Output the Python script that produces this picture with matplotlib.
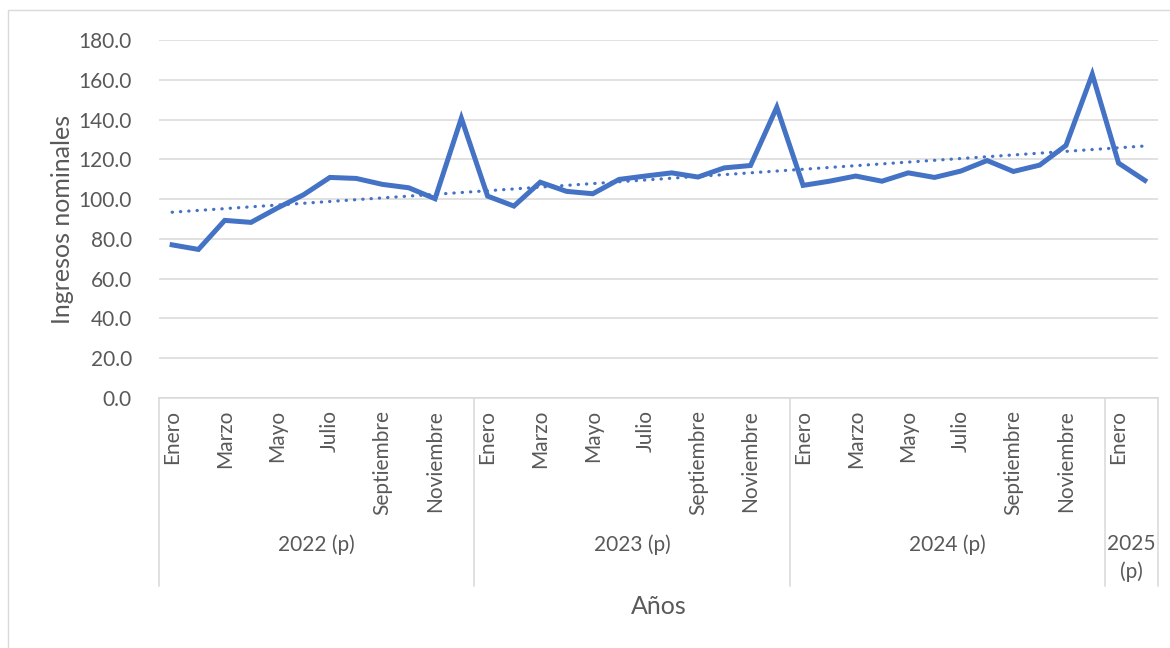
import numpy as np
import matplotlib
matplotlib.use("Agg")
import matplotlib.pyplot as plt
from matplotlib.patches import Rectangle
import matplotlib.transforms as mtransforms

plt.rcParams["font.family"] = ["Lato", "DejaVu Sans"]

# monthly nominal income, Jan 2022 .. Feb 2025
ingresos_2022 = [77.0, 74.7, 89.3, 88.3, 95.5, 102.2, 110.9, 110.4, 107.4, 105.7, 100.2, 140.7]
ingresos_2023 = [101.5, 96.5, 108.5, 103.9, 102.7, 109.9, 111.6, 113.2, 111.1, 115.7, 116.9, 146.2]
ingresos_2024 = [106.9, 109.0, 111.6, 109.0, 113.2, 110.9, 114.1, 119.4, 113.9, 117.1, 127.0, 162.8]
ingresos_2025 = [118.1, 109.4]

meses = ["Enero", "Febrero", "Marzo", "Abril", "Mayo", "Junio", "Julio",
         "Agosto", "Septiembre", "Octubre", "Noviembre", "Diciembre"]
anios = ["2022 (p)", "2023 (p)", "2024 (p)", "2025\n(p)"]
n_meses = [12, 12, 12, 2]

valores = np.array(ingresos_2022 + ingresos_2023 + ingresos_2024 + ingresos_2025)
x = np.arange(len(valores))

BLUE = "#4472C4"
GRID = "#d9d9d9"
TXT = "#595959"

W, H = 1170, 648
fig = plt.figure(figsize=(W / 100, H / 100), dpi=100)
ax = fig.add_axes([159 / W, 1 - 398 / H, (1158 - 159) / W, (398 - 40) / H])

# chart frame
fig.patches.append(Rectangle((8 / W, -0.05), 1.1, 1 - 10 / H + 0.05, transform=fig.transFigure,
                             fill=False, ec=GRID, lw=1.0))

ax.plot(x, valores, color=BLUE, lw=3.6, solid_joinstyle="miter", zorder=3)

# linear trend (as Excel)
m, b = np.polyfit(x, valores, 1)
ax.plot(x[[0, -1]], m * x[[0, -1]] + b, color=BLUE, lw=2.3,
        linestyle=(0, (0.1, 2.5)), dash_capstyle="round", zorder=2)

ax.set_xlim(-0.5, len(valores) - 0.5)
ax.set_ylim(0, 180)
ax.set_yticks(np.arange(0, 181, 20))
ax.set_yticklabels([f"{v:.1f}" for v in np.arange(0, 181, 20)])
ax.grid(axis="y", color=GRID, lw=1.1)
ax.set_axisbelow(True)
for s in ["top", "right", "left"]:
    ax.spines[s].set_visible(False)
ax.spines["bottom"].set_color(GRID)
ax.spines["bottom"].set_linewidth(1.1)
ax.tick_params(axis="y", left=False, pad=16, labelsize=15, labelcolor=TXT)

# month ticks (every other month)
pos, labs = [], []
start = 0
for n in n_meses:
    for k in range(0, n, 2):
        pos.append(start + k)
        labs.append(meses[k])
    start += n
ax.set_xticks(pos)
ax.set_xticklabels(labs, rotation=90, va="top", ha="center")
ax.tick_params(axis="x", bottom=False, pad=5, labelsize=15, labelcolor=TXT)

# year groups
trans = mtransforms.blended_transform_factory(ax.transData, ax.transAxes)
bounds = np.concatenate([[0], np.cumsum(n_meses)]) - 0.5
for xb in bounds:
    ax.plot([xb, xb], [0, -188 / 358], transform=trans, color=GRID, lw=1.1, clip_on=False)
for i, lab in enumerate(anios):
    xc = (bounds[i] + bounds[i + 1]) / 2
    ya = -147 / 358 if "\n" not in lab else -160 / 358
    ax.text(xc, ya, lab, transform=trans, ha="center", va="center", fontsize=15,
            color=TXT, linespacing=1.45)

ax.text(0.5, -209 / 358, "Años", transform=ax.transAxes, ha="center", va="center",
        fontsize=18, color=TXT)
fig.text(62 / W, 1 - 219 / H, "Ingresos nominales", rotation=90, ha="center", va="center",
         fontsize=18, color=TXT)

fig.savefig("out.png", dpi=100)
